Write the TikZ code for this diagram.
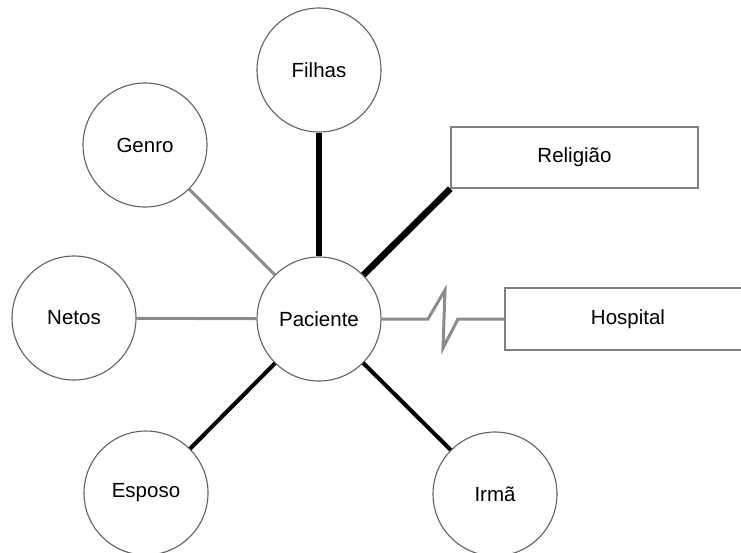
\documentclass[tikz,border=0pt]{standalone}
\usepackage{fontspec}
\setmainfont{Liberation Sans}
\begin{document}
\begin{tikzpicture}[x=1pt,y=-1pt,
  person/.style={circle,draw=black!62,line width=1.1pt,fill=white,
    minimum size=124pt,inner sep=0pt,font=\fontsize{20.5}{24}\selectfont},
  group/.style={rectangle,draw=black!50,line width=1.4pt,fill=white,
    inner sep=0pt,font=\fontsize{20.5}{24}\selectfont},
  weak/.style={draw=black!45,line width=3pt},
  normal/.style={draw=black,line width=4pt},
  strong/.style={draw=black,line width=6.5pt},
  stress/.style={draw=black!45,line width=3pt,line join=miter}]
  \useasboundingbox (0,0) rectangle (741,552);

  % central person and network members
  \node[person] (pac) at (319,319) {Paciente};
  \node[person] (fil) at (319,70)  {Filhas};
  \node[person] (gen) at (145,145) {Genro};
  \node[person] (net) at (74,318)  {Netos};
  \node[person] (esp) at (146,493) {Esposo};
  \node[person] (irm) at (495,494) {Irmã};

  % institutions
  \node[group,minimum width=247pt,minimum height=61pt] (rel) at (574.5,157.5) {Religião};
  \node[group,minimum width=246pt,minimum height=62pt] (hos) at (628,319) {Hospital};

  % break points of the conflictive link
  \coordinate (z1) at (428,319);
  \coordinate (z2) at (445,290);
  \coordinate (z3) at (443,348);
  \coordinate (z4) at (458,319);

  % links
  \path[strong] (fil) -- (pac);
  \path[strong] (pac) -- (rel.south west);
  \path[weak] (gen) -- (pac);
  \path[weak] (net) -- (pac);
  \path[normal] (esp) -- (pac);
  \path[normal] (irm) -- (pac);
  \path[stress] (pac) -- (z1) -- (z2) -- (z3) -- (z4) -- (hos);
\end{tikzpicture}
\end{document}
